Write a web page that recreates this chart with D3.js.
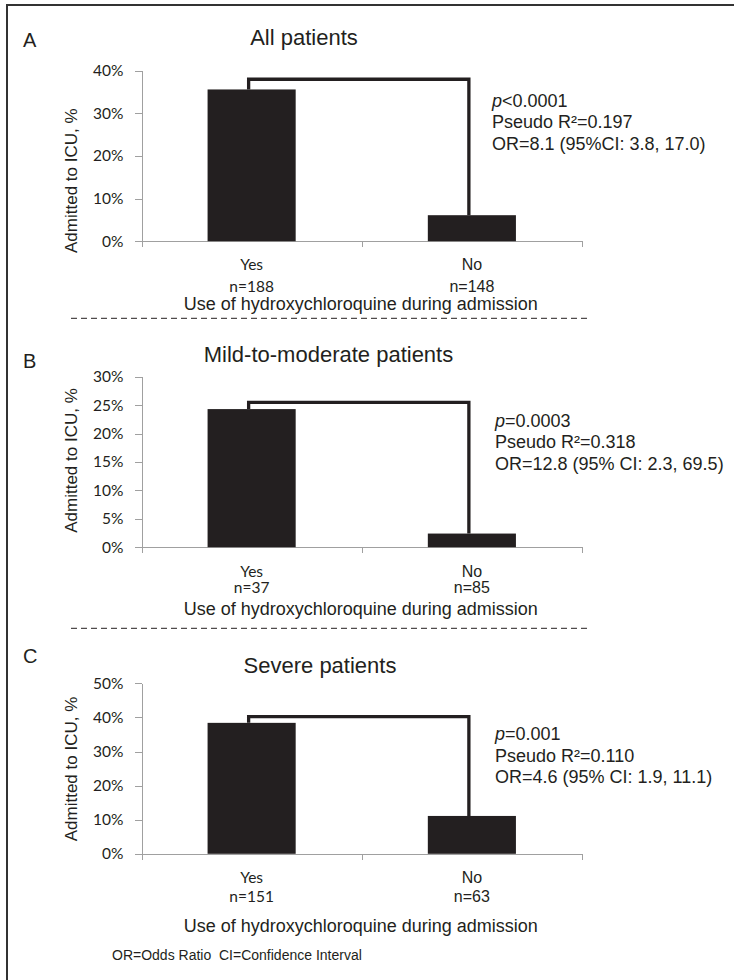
<!DOCTYPE html>
<html lang="en">
<head>
  <meta charset="UTF-8">
  <title>ICU admission by hydroxychloroquine use</title>
  <script src="https://d3js.org/d3.v7.min.js"></script>
  <style>
    body { margin: 0; background: #fff; }
    svg { display: block; font-family: "Liberation Sans", Arial, sans-serif; }
    .axis path, .axis line { stroke: #a0a0a0; shape-rendering: crispEdges; }
    .axis text { font-family: Lato, sans-serif; font-size: 15.5px; fill: #231f20; }
    .note { white-space: pre; }
  </style>
</head>
<body>
  <svg id="chart" width="734" height="980"></svg>

  <script>
    // data
    const panelLetters = ["A", "B", "C"];
    const panelTitles = ["All patients", "Mild-to-moderate patients", "Severe patients"];
    const categories = ["Yes", "No"];
    const sampleSizes = [[188, 148], [37, 85], [151, 63]];
    const icuRates = [[35.6, 6.1], [24.3, 2.4], [38.4, 11.1]];   // % admitted to ICU
    const yMax = [40, 30, 50];
    const yStep = [10, 5, 10];
    const bracketLevel = [38.0, 25.5, 40.2];
    const pValues = ["<0.0001", "=0.0003", "=0.001"];
    const pseudoR2 = ["0.197", "0.318", "0.110"];
    const oddsRatios = [
      "OR=8.1 (95%CI: 3.8, 17.0)",
      "OR=12.8 (95% CI: 2.3, 69.5)",
      "OR=4.6 (95% CI: 1.9, 11.1)"
    ];
    const xTitle = "Use of hydroxychloroquine during admission";
    const yTitle = "Admitted to ICU, %";
    const footnote = "OR=Odds Ratio  CI=Confidence Interval";

    // placement of each panel on the page
    const layout = [
      { top: 70.7,  letterY: 47,  titleX: 304,   titleY: 45,  statsX: 492, statsY: 106.7, yesY: 270,   nY: 291.5, xTitleY: 310,   yTitleY: 180.7, dashY: 318.3 },
      { top: 376.7, letterY: 368, titleX: 328.5, titleY: 362, statsX: 495, statsY: 426.7, yesY: 576.7, nY: 593,   xTitleY: 615,   yTitleY: 460.5, dashY: 628.3 },
      { top: 683.3, letterY: 663, titleX: 320,   titleY: 673, statsX: 495, statsY: 740,   yesY: 883,   nY: 901.7, xTitleY: 931.7, yTitleY: 769,   dashY: null }
    ];
    const plotH = 170.5;
    const x0 = 141.5, x1 = 582;
    const ink = "#231f20";
    const catFonts = ["Lato, sans-serif", "'Liberation Sans', Arial, sans-serif"];
    const catSizes = [15.5, 16];

    const svg = d3.select("#chart");

    // frame (top and left edges only)
    svg.append("line").attr("x1", 7).attr("x2", 734).attr("y1", 5).attr("y2", 5)
      .attr("stroke", "#333").attr("stroke-width", 2);
    svg.append("line").attr("x1", 7).attr("x2", 7).attr("y1", 4).attr("y2", 980)
      .attr("stroke", "#333").attr("stroke-width", 2);

    const x = d3.scaleBand()
      .domain(categories)
      .range([x0, x1])
      .paddingInner(0.6)
      .paddingOuter(0.3);
    const xEdge = d3.scaleLinear().domain([0, categories.length]).range([x0, x1]);
    const cx = c => x(c) + x.bandwidth() / 2;

    panelTitles.forEach((title, p) => {
      const L = layout[p];
      const bottom = L.top + plotH;
      const y = d3.scaleLinear().domain([0, yMax[p]]).range([bottom, L.top]);
      const g = svg.append("g");

      g.append("text")
        .attr("x", 23).attr("y", L.letterY)
        .attr("font-size", 20).attr("fill", ink)
        .text(panelLetters[p]);

      g.append("text")
        .attr("x", L.titleX).attr("y", L.titleY)
        .attr("text-anchor", "middle")
        .attr("font-size", 22).attr("fill", ink)
        .text(title);

      // y axis
      g.append("g")
        .attr("class", "axis")
        .attr("transform", `translate(${x0},0)`)
        .call(d3.axisLeft(y)
          .tickValues(d3.range(0, yMax[p] + 1, yStep[p]))
          .tickFormat(d => d + "%")
          .tickSize(7).tickSizeOuter(0).tickPadding(11));

      // x axis line with category boundary ticks
      g.append("g")
        .attr("class", "axis")
        .attr("transform", `translate(0,${bottom})`)
        .call(d3.axisBottom(xEdge)
          .tickValues(d3.range(0, categories.length + 1))
          .tickFormat("")
          .tickSize(6).tickSizeOuter(0));

      // bars
      g.selectAll(".bar")
        .data(categories)
        .join("rect")
        .attr("class", "bar")
        .attr("x", c => x(c))
        .attr("width", x.bandwidth())
        .attr("y", (c, i) => y(icuRates[p][i]))
        .attr("height", (c, i) => bottom - y(icuRates[p][i]))
        .attr("fill", ink);

      // comparison bracket
      const xl = cx(categories[0]) - 3, xr = cx(categories[1]) - 3;
      const path = d3.path();
      path.moveTo(xl, y(icuRates[p][0]));
      path.lineTo(xl, y(bracketLevel[p]));
      path.lineTo(xr, y(bracketLevel[p]));
      path.lineTo(xr, y(icuRates[p][1]));
      g.append("path")
        .attr("d", path.toString())
        .attr("fill", "none")
        .attr("stroke", ink)
        .attr("stroke-width", 3.3);

      // statistics
      const stats = g.append("text")
        .attr("x", L.statsX).attr("y", L.statsY)
        .attr("font-size", 18).attr("fill", ink);
      const l1 = stats.append("tspan").attr("x", L.statsX).attr("y", L.statsY);
      l1.append("tspan").attr("font-style", "italic").text("p");
      l1.append("tspan").text(pValues[p]);
      stats.append("tspan").attr("x", L.statsX).attr("y", L.statsY + 21.5)
        .text("Pseudo R\u00B2=" + pseudoR2[p]);
      stats.append("tspan").attr("x", L.statsX).attr("y", L.statsY + 43)
        .text(oddsRatios[p]);

      // category labels
      categories.forEach((c, i) => {
        g.append("text")
          .attr("x", cx(c)).attr("y", L.yesY)
          .attr("text-anchor", "middle")
          .attr("font-family", catFonts[i]).attr("font-size", catSizes[i])
          .attr("fill", ink)
          .text(c);
        g.append("text")
          .attr("x", cx(c)).attr("y", L.nY)
          .attr("text-anchor", "middle")
          .attr("font-family", catFonts[i]).attr("font-size", catSizes[i])
          .attr("fill", ink)
          .text("n=" + sampleSizes[p][i]);
      });

      g.append("text")
        .attr("x", (x0 + x1) / 2 - 1).attr("y", L.xTitleY)
        .attr("text-anchor", "middle")
        .attr("font-size", 18).attr("fill", ink)
        .text(xTitle);

      g.append("text")
        .attr("transform", `translate(77,${L.yTitleY}) rotate(-90)`)
        .attr("text-anchor", "middle")
        .attr("font-size", 17).attr("fill", ink)
        .text(yTitle);

      if (L.dashY !== null) {
        g.append("line")
          .attr("x1", 71).attr("x2", 590)
          .attr("y1", L.dashY).attr("y2", L.dashY)
          .attr("stroke", ink).attr("stroke-width", 1)
          .attr("stroke-dasharray", "6,4");
      }
    });

    svg.append("text")
      .attr("class", "note")
      .attr("x", 112).attr("y", 960)
      .attr("font-size", 14).attr("fill", ink)
      .text(footnote);
  </script>
</body>
</html>
